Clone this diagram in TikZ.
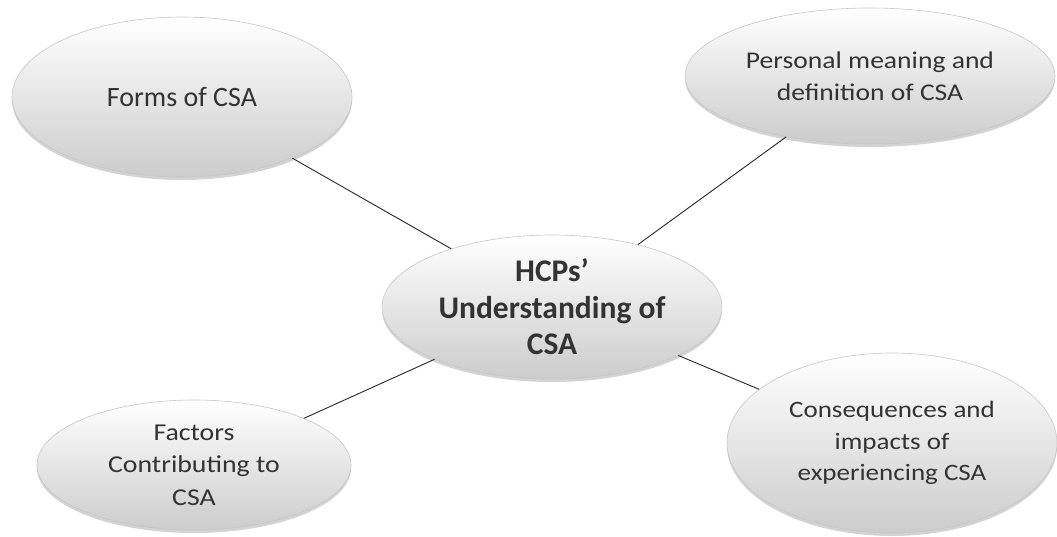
\documentclass[tikz,border=0pt]{standalone}
\usepackage{fontspec}
\setmainfont{Carlito}
\newfontfamily\wideFont[FakeStretch=1.15]{Carlito}
\usetikzlibrary{shapes.geometric,shadows}
\newcommand{\bubbleFont}[2]{\fontsize{#1}{#2}\selectfont}

\begin{document}
\begin{tikzpicture}[x=1pt,y=1pt]
  \tikzset{bubble/.style={ellipse,draw=gray!45,line width=0.6pt,inner sep=-14pt,
      top color=white,bottom color=gray!40,text=black!80,align=center,
      drop shadow={shadow xshift=0pt,shadow yshift=-3pt,opacity=0.35,fill=gray}},
    link/.style={draw=black!85,line width=0.9pt}}
  \useasboundingbox (0,0) rectangle (1057,536);
  \node[bubble,minimum width=340,minimum height=160,font=\bubbleFont{28}{33}] (forms) at (182,439) {Forms of CSA};
  \node[bubble,minimum width=370,minimum height=136,font=\wideFont\bubbleFont{24}{32}] (meaning) at (870,460) {Personal meaning and\\definition of CSA};
  \node[bubble,minimum width=314,minimum height=130,font=\wideFont\bubbleFont{24.2}{32.5}] (factors) at (194,71) {Factors\\Contributing to\\CSA};
  \node[bubble,minimum width=330,minimum height=180,font=\wideFont\bubbleFont{23.5}{31.5}] (impacts) at (892,93) {Consequences and\\impacts of\\experiencing CSA};
  \node[bubble,minimum width=340,minimum height=144,font={\bubbleFont{31.5}{36.5}\bfseries}] (hcp) at (552,229) {HCPs'\\Understanding of\\CSA};
  \draw[link] (forms.-29) -- (hcp.150);
  \draw[link] (meaning.216.3) -- (hcp.36.7);
  \draw[link] (factors.23.3) -- (hcp.204);
  \draw[link] (impacts.158.1) -- (hcp.-21.8);
\end{tikzpicture}
\end{document}
